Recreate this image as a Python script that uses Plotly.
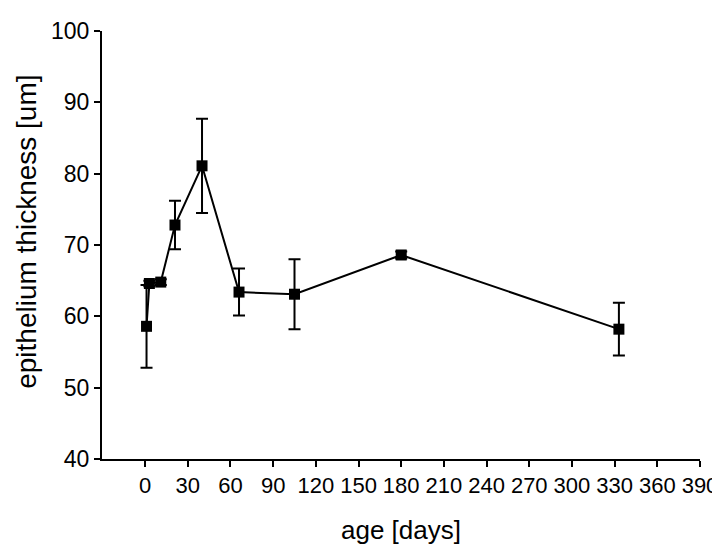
import plotly.graph_objects as go

# data
age_days = [1, 3, 11, 21, 40, 66, 105, 180, 333]
thickness = [58.6, 64.6, 64.8, 72.8, 81.1, 63.4, 63.1, 68.6, 58.2]
thickness_err = [5.8, 0.4, 0.4, 3.4, 6.6, 3.3, 4.9, 0.5, 3.7]

x_ticks = list(range(0, 391, 30))
y_ticks = list(range(40, 101, 10))

x_title = "age [days]"
y_title = "epithelium thickness [um]"

FONT = "Liberation Sans, Arial, Helvetica, sans-serif"

fig = go.Figure()
fig.add_trace(go.Scatter(
    x=age_days, y=thickness,
    mode="lines+markers",
    line=dict(color="black", width=2),
    marker=dict(symbol="square", size=11, color="black"),
    error_y=dict(type="data", array=thickness_err, visible=True,
                 color="black", thickness=2, width=6),
    showlegend=False,
))

fig.update_layout(
    width=720, height=546,
    margin=dict(l=94, r=28, t=10, b=95),
    paper_bgcolor="white", plot_bgcolor="white",
    font=dict(family=FONT, color="black"),
    annotations=[
        dict(text=y_title, textangle=-90,
             xref="paper", yref="paper", x=-0.126, y=0.53,
             xanchor="center", yanchor="middle", showarrow=False,
             font=dict(size=28, color="black")),
        dict(text=x_title,
             xref="paper", yref="paper", x=0.5, y=-0.166,
             xanchor="center", yanchor="middle", showarrow=False,
             font=dict(size=26, color="black")),
    ],
)
fig.update_xaxes(
    range=[-30.3, 390], tickvals=x_ticks, ticktext=[str(v) for v in x_ticks],
    showline=True, linecolor="black", linewidth=2,
    ticks="outside", ticklen=6, tickwidth=2, tickcolor="black",
    showgrid=False, zeroline=False, ticklabeloverflow="allow",
    tickfont=dict(size=22),
)
fig.update_yaxes(
    range=[40, 100], tickvals=y_ticks,
    showline=True, linecolor="black", linewidth=2,
    ticks="outside", ticklen=6, tickwidth=2, tickcolor="black",
    showgrid=False, zeroline=False, ticklabeloverflow="allow",
    tickfont=dict(size=23),
)

fig.write_html("out.html")
